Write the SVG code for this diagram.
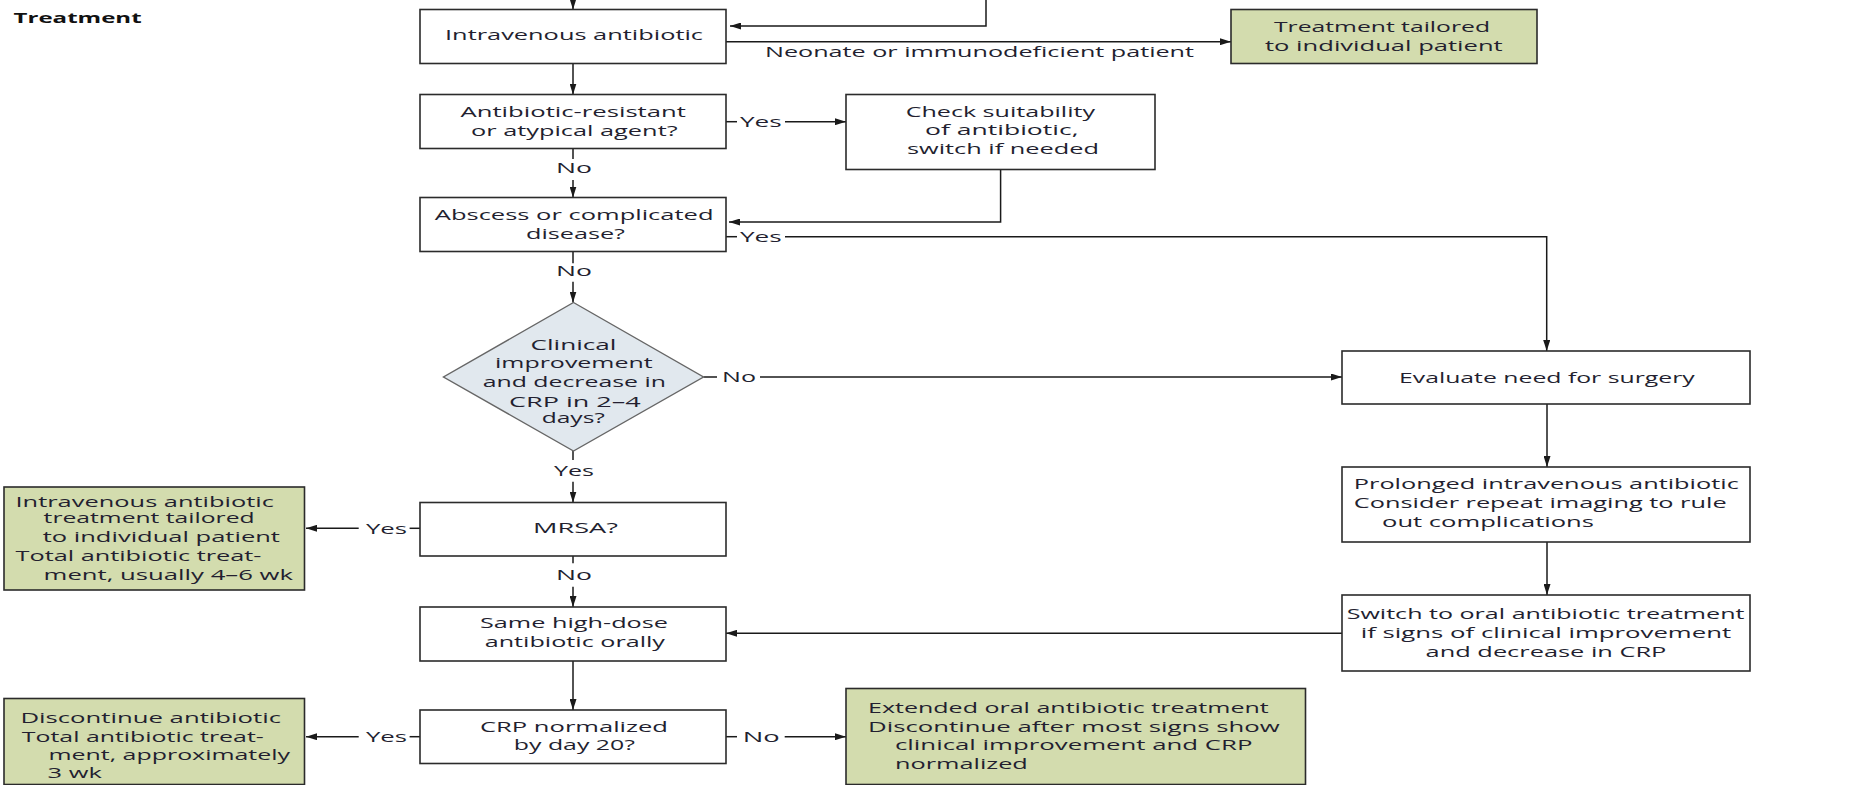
<svg xmlns="http://www.w3.org/2000/svg" width="1855" height="785" viewBox="0 0 1855 785">
<defs>
<marker id="ah" markerUnits="userSpaceOnUse" markerWidth="11" markerHeight="7" refX="11" refY="3.5" orient="auto">
<path d="M0,0 L11,3.5 L0,7 z" fill="#1a1a1a"/>
</marker>
<style>
.box{fill:#ffffff;stroke:#2b2b2b;stroke-width:1.6}
.grn{fill:#d3dcae;stroke:#2b2b2b;stroke-width:1.6}
.dia{fill:#e1e8ee;stroke:#666666;stroke-width:1.4}
.t{font-family:"Open Sans","Liberation Sans",sans-serif;font-size:15px;fill:#231f30}
.h{font-family:"Open Sans","Liberation Sans",sans-serif;font-size:15px;font-weight:bold;fill:#111111}
.c{fill:none;stroke:#1a1a1a;stroke-width:1.5}
.a{marker-end:url(#ah)}
</style>
</defs>
<rect width="1855" height="785" fill="#ffffff"/>
<text class="h" x="13.6" y="22.5" textLength="128" lengthAdjust="spacingAndGlyphs">Treatment</text>

<g id="connectors">
<path class="c a" d="M573,0 V9.5"/>
<path class="c a" d="M986,0 V26 H730"/>
<path class="c a" d="M726,41.7 H1231"/>
<path class="c a" d="M573,63.5 V94.5"/>
<path class="c" d="M573,148.5 V159"/>
<path class="c a" d="M573,180 V197.5"/>
<path class="c" d="M726,121.7 H737"/>
<path class="c a" d="M785,121.7 H846"/>
<path class="c a" d="M1000.6,169.5 V222 H729"/>
<path class="c" d="M726,236.7 H737"/>
<path class="c a" d="M785,236.7 H1546.7 V351"/>
<path class="c" d="M573,251.5 V263.3"/>
<path class="c a" d="M573,281.7 V302.5"/>
<path class="c" d="M703.5,377 H717"/>
<path class="c a" d="M760,377 H1342"/>
<path class="c" d="M573,451 V460"/>
<path class="c a" d="M573,481.7 V502.5"/>
<path class="c a" d="M1547,404 V467"/>
<path class="c a" d="M1547,542 V595"/>
<path class="c a" d="M1342,633.3 H726"/>
<path class="c" d="M420,528.3 H409.6"/>
<path class="c a" d="M358.7,528.3 H306"/>
<path class="c" d="M573,556 V563.3"/>
<path class="c a" d="M573,586.7 V607"/>
<path class="c a" d="M573,661 V710"/>
<path class="c" d="M420,736.7 H409.6"/>
<path class="c a" d="M358.7,736.7 H306"/>
<path class="c" d="M726,736.7 H737"/>
<path class="c a" d="M784.7,736.7 H846"/>
<text class="t" x="765" y="56.5" textLength="429" lengthAdjust="spacingAndGlyphs">Neonate or immunodeficient patient</text>
<text class="t" x="740" y="126.7" textLength="41.7" lengthAdjust="spacingAndGlyphs">Yes</text>
<text class="t" x="556" y="173" textLength="36" lengthAdjust="spacingAndGlyphs">No</text>
<text class="t" x="740" y="242" textLength="41.7" lengthAdjust="spacingAndGlyphs">Yes</text>
<text class="t" x="556" y="276" textLength="36" lengthAdjust="spacingAndGlyphs">No</text>
<text class="t" x="722" y="382" textLength="34" lengthAdjust="spacingAndGlyphs">No</text>
<text class="t" x="554" y="476" textLength="40" lengthAdjust="spacingAndGlyphs">Yes</text>
<text class="t" x="366" y="533.8" textLength="41" lengthAdjust="spacingAndGlyphs">Yes</text>
<text class="t" x="556" y="580" textLength="36" lengthAdjust="spacingAndGlyphs">No</text>
<text class="t" x="366" y="742" textLength="41" lengthAdjust="spacingAndGlyphs">Yes</text>
<text class="t" x="742.7" y="742" textLength="37" lengthAdjust="spacingAndGlyphs">No</text>
</g>

<g id="n-iv">
<rect class="box" x="420" y="9.5" width="306" height="54"/>
<text class="t" x="445" y="40" textLength="258" lengthAdjust="spacingAndGlyphs">Intravenous antibiotic</text>
</g>
<g id="n-tailored">
<rect class="grn" x="1231" y="9.5" width="306" height="54"/>
<text class="t" x="1274" y="32.3" textLength="216" lengthAdjust="spacingAndGlyphs">Treatment tailored</text>
<text class="t" x="1265" y="50.7" textLength="237.7" lengthAdjust="spacingAndGlyphs">to individual patient</text>
</g>
<g id="n-resistant">
<rect class="box" x="420" y="94.5" width="306" height="54"/>
<text class="t" x="460.5" y="116.7" textLength="225.4" lengthAdjust="spacingAndGlyphs">Antibiotic-resistant</text>
<text class="t" x="471" y="136" textLength="206.6" lengthAdjust="spacingAndGlyphs">or atypical agent?</text>
</g>
<g id="n-check">
<rect class="box" x="846" y="94.5" width="309" height="75"/>
<text class="t" x="905.7" y="117" textLength="189.3" lengthAdjust="spacingAndGlyphs">Check suitability</text>
<text class="t" x="925" y="135" textLength="153.5" lengthAdjust="spacingAndGlyphs">of antibiotic,</text>
<text class="t" x="907" y="154" textLength="192" lengthAdjust="spacingAndGlyphs">switch if needed</text>
</g>
<g id="n-abscess">
<rect class="box" x="420" y="197.5" width="306" height="54"/>
<text class="t" x="434.8" y="220" textLength="278.7" lengthAdjust="spacingAndGlyphs">Abscess or complicated</text>
<text class="t" x="526" y="239.3" textLength="99" lengthAdjust="spacingAndGlyphs">disease?</text>
</g>
<g id="n-clinical">
<polygon class="dia" points="573.5,302.5 703.5,377 573.5,451 443.5,377"/>
<text class="t" x="530.5" y="350" textLength="86" lengthAdjust="spacingAndGlyphs">Clinical</text>
<text class="t" x="495" y="368.3" textLength="157.7" lengthAdjust="spacingAndGlyphs">improvement</text>
<text class="t" x="482.7" y="387.3" textLength="183.3" lengthAdjust="spacingAndGlyphs">and decrease in</text>
<text class="t" x="509" y="406.7" textLength="131.7" lengthAdjust="spacingAndGlyphs">CRP in 2–4</text>
<text class="t" x="541.7" y="423.3" textLength="63.3" lengthAdjust="spacingAndGlyphs">days?</text>
</g>
<g id="n-evaluate">
<rect class="box" x="1342" y="351" width="408" height="53"/>
<text class="t" x="1399" y="383" textLength="295.7" lengthAdjust="spacingAndGlyphs">Evaluate need for surgery</text>
</g>
<g id="n-prolonged">
<rect class="box" x="1342" y="467" width="408" height="75"/>
<text class="t" x="1353.8" y="489.3" textLength="385" lengthAdjust="spacingAndGlyphs">Prolonged intravenous antibiotic</text>
<text class="t" x="1353.8" y="508.3" textLength="372.8" lengthAdjust="spacingAndGlyphs">Consider repeat imaging to rule</text>
<text class="t" x="1382" y="526.7" textLength="212" lengthAdjust="spacingAndGlyphs">out complications</text>
</g>
<g id="n-mrsa">
<rect class="box" x="420" y="502.5" width="306" height="53.5"/>
<text class="t" x="533" y="533.3" textLength="85" lengthAdjust="spacingAndGlyphs">MRSA?</text>
</g>
<g id="n-iv-tailored">
<rect class="grn" x="4" y="487" width="300.5" height="103"/>
<text class="t" x="15.5" y="506.7" textLength="258.4" lengthAdjust="spacingAndGlyphs">Intravenous antibiotic</text>
<text class="t" x="43.6" y="523.3" textLength="211" lengthAdjust="spacingAndGlyphs">treatment tailored</text>
<text class="t" x="42.7" y="541.7" textLength="237.3" lengthAdjust="spacingAndGlyphs">to individual patient</text>
<text class="t" x="15.5" y="560.7" textLength="246" lengthAdjust="spacingAndGlyphs">Total antibiotic treat-</text>
<text class="t" x="43.6" y="580" textLength="249.4" lengthAdjust="spacingAndGlyphs">ment, usually 4–6 wk</text>
</g>
<g id="n-oral">
<rect class="box" x="420" y="607" width="306" height="54"/>
<text class="t" x="480" y="628.3" textLength="188" lengthAdjust="spacingAndGlyphs">Same high-dose</text>
<text class="t" x="484.7" y="646.7" textLength="180.3" lengthAdjust="spacingAndGlyphs">antibiotic orally</text>
</g>
<g id="n-switch">
<rect class="box" x="1342" y="595" width="408" height="76"/>
<text class="t" x="1346.7" y="619.3" textLength="397.8" lengthAdjust="spacingAndGlyphs">Switch to oral antibiotic treatment</text>
<text class="t" x="1360.7" y="638.3" textLength="370.5" lengthAdjust="spacingAndGlyphs">if signs of clinical improvement</text>
<text class="t" x="1425.6" y="656.7" textLength="240.8" lengthAdjust="spacingAndGlyphs">and decrease in CRP</text>
</g>
<g id="n-crp">
<rect class="box" x="420" y="710" width="306" height="53.5"/>
<text class="t" x="480" y="731.7" textLength="188" lengthAdjust="spacingAndGlyphs">CRP normalized</text>
<text class="t" x="513.8" y="750" textLength="121.2" lengthAdjust="spacingAndGlyphs">by day 20?</text>
</g>
<g id="n-discontinue">
<rect class="grn" x="4" y="698.5" width="300.5" height="86"/>
<text class="t" x="20.4" y="723.3" textLength="260.6" lengthAdjust="spacingAndGlyphs">Discontinue antibiotic</text>
<text class="t" x="21.8" y="741.7" textLength="242" lengthAdjust="spacingAndGlyphs">Total antibiotic treat-</text>
<text class="t" x="48.5" y="760" textLength="241.5" lengthAdjust="spacingAndGlyphs">ment, approximately</text>
<text class="t" x="47.5" y="778.3" textLength="54.3" lengthAdjust="spacingAndGlyphs">3 wk</text>
</g>
<g id="n-extended">
<rect class="grn" x="846" y="688.5" width="459.5" height="96"/>
<text class="t" x="868" y="713.3" textLength="400.7" lengthAdjust="spacingAndGlyphs">Extended oral antibiotic treatment</text>
<text class="t" x="868" y="731.7" textLength="411.7" lengthAdjust="spacingAndGlyphs">Discontinue after most signs show</text>
<text class="t" x="895" y="750" textLength="357.5" lengthAdjust="spacingAndGlyphs">clinical improvement and CRP</text>
<text class="t" x="895" y="769.3" textLength="132.8" lengthAdjust="spacingAndGlyphs">normalized</text>
</g>
</svg>
